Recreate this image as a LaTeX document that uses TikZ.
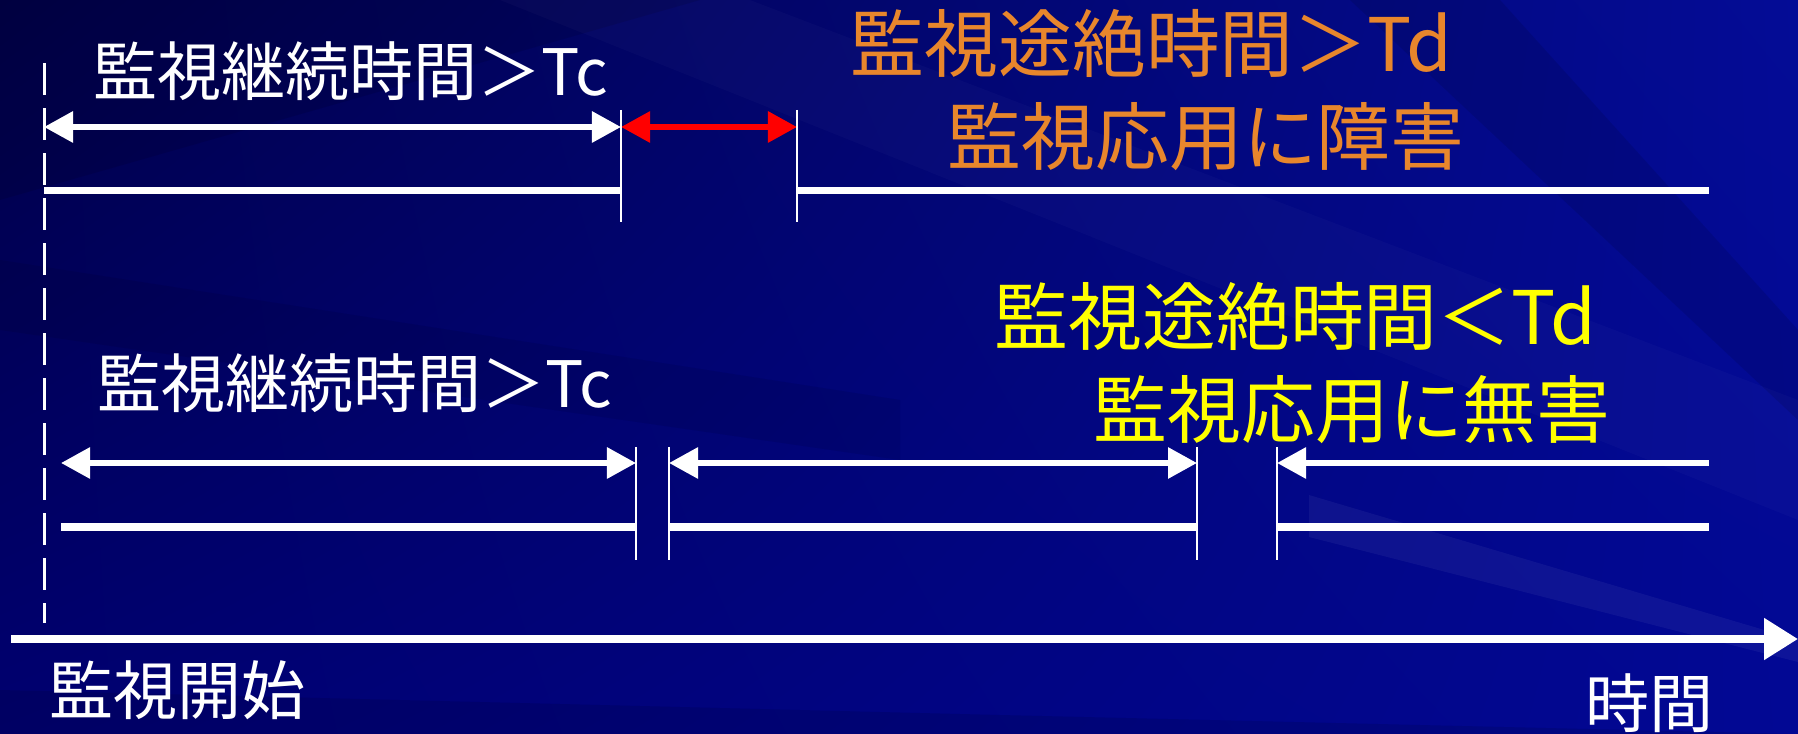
\documentclass[tikz,border=0pt]{standalone}
\usepackage{fontspec}
\setmainfont{Noto Sans CJK JP}
\usetikzlibrary{arrows.meta,shadings}
\definecolor{bgUL}{RGB}{0,0,72}
\definecolor{bgUR}{RGB}{4,12,150}
\definecolor{bgLL}{RGB}{0,0,112}
\definecolor{bgLR}{RGB}{2,8,148}
\definecolor{orangetxt}{RGB}{232,134,44}
\definecolor{yellowtxt}{RGB}{255,255,0}
\tikzset{
  lab/.style={inner sep=0pt, anchor=base west, font=\fontsize{18.2pt}{20pt}\selectfont},
  biglab/.style={inner sep=0pt, anchor=base west, font=\fontsize{21pt}{23pt}\selectfont},
  span/.style={white, line width=0.06cm, {Triangle[length=0.29cm,width=0.30cm]}-{Triangle[length=0.29cm,width=0.30cm]}},
  lspan/.style={white, line width=0.06cm, {Triangle[length=0.29cm,width=0.30cm]}-},
  bar/.style={white, line width=0.07cm},
  tick/.style={white, line width=0.02cm},
  axis/.style={white, line width=0.08cm, -{Triangle[length=0.34cm,width=0.40cm]}},
}
\begin{document}
\begin{tikzpicture}[x=0.01cm,y=-0.01cm]
\useasboundingbox (0,0) rectangle (1798,734);
% background
\shade[upper left=bgUL, upper right=bgUR, lower left=bgLL, lower right=bgLR] (0,0) rectangle (1798,734);
\fill[black, opacity=0.10] (0,0) -- (700,0) -- (0,200) -- cycle;
\fill[black, opacity=0.08] (0,260) -- (900,400) -- (900,460) -- (0,330) -- cycle;
\fill[white, opacity=0.025] (500,0) -- (750,0) -- (1798,400) -- (1798,520) -- cycle;
\fill[black, opacity=0.10] (1350,0) -- (1500,0) -- (1798,330) -- (1798,420) -- cycle;
\fill[white, opacity=0.05] (1309,495) -- (1798,640) -- (1798,662) -- (1309,537) -- cycle;
\fill[black, opacity=0.10] (0,690) -- (1000,715) -- (1798,734) -- (0,734) -- cycle;
% coordinates
\coordinate (d1) at (44,63);
\coordinate (d2) at (44,623);
\coordinate (a0) at (44,127);
\coordinate (a1) at (621,127);
\coordinate (a2) at (797,127);
\coordinate (t1a) at (621,110);
\coordinate (t1b) at (621,222);
\coordinate (t2a) at (797,110);
\coordinate (t2b) at (797,222);
\coordinate (b0) at (44,191);
\coordinate (b1) at (621,191);
\coordinate (b2) at (797,191);
\coordinate (b3) at (1709,191);
\coordinate (c0) at (61,463);
\coordinate (c1) at (636,463);
\coordinate (c2) at (669,463);
\coordinate (c3) at (1197,463);
\coordinate (c4) at (1277,463);
\coordinate (c5) at (1709,463);
\coordinate (e0) at (61,527);
\coordinate (e1) at (636,527);
\coordinate (e2) at (669,527);
\coordinate (e3) at (1197,527);
\coordinate (e4) at (1277,527);
\coordinate (e5) at (1709,527);
\coordinate (s1a) at (636,447);
\coordinate (s1b) at (636,560);
\coordinate (s2a) at (669,447);
\coordinate (s2b) at (669,560);
\coordinate (s3a) at (1197,447);
\coordinate (s3b) at (1197,560);
\coordinate (s4a) at (1277,447);
\coordinate (s4b) at (1277,560);
\coordinate (x0) at (11,639);
\coordinate (x1) at (1798,639);
% dashed start line
\draw[white, line width=0.03cm, dash pattern=on 0.32cm off 0.13cm] (d1) -- (d2);
% top case
\draw[span] (a0) -- (a1);
\draw[span, red] (a1) -- (a2);
\draw[tick] (t1a) -- (t1b);
\draw[tick] (t2a) -- (t2b);
\draw[bar] (b0) -- (b1);
\draw[bar] (b2) -- (b3);
% bottom case
\draw[span] (c0) -- (c1);
\draw[span] (c2) -- (c3);
\draw[lspan] (c4) -- (c5);
\draw[tick] (s1a) -- (s1b);
\draw[tick] (s2a) -- (s2b);
\draw[tick] (s3a) -- (s3b);
\draw[tick] (s4a) -- (s4b);
\draw[bar] (e0) -- (e1);
\draw[bar] (e2) -- (e3);
\draw[bar] (e4) -- (e5);
% time axis
\draw[axis] (x0) -- (x1);
% labels
\node[lab, text=white] (tc1) at (93,96) {監視継続時間＞Tc};
\node[biglab, text=orangetxt] (td1) at (850,72) {監視途絶時間＞Td};
\node[biglab, text=orangetxt] (td2) at (947,165) {監視応用に障害};
\node[biglab, text=yellowtxt] (td3) at (994,345) {監視途絶時間＜Td};
\node[biglab, text=yellowtxt] (td4) at (1093,438) {監視応用に無害};
\node[lab, text=white] (tc2) at (97,408) {監視継続時間＞Tc};
\node[lab, text=white] (start) at (49,714) {監視開始};
\node[lab, text=white] (time) at (1585,727) {時間};
\end{tikzpicture}
\end{document}
